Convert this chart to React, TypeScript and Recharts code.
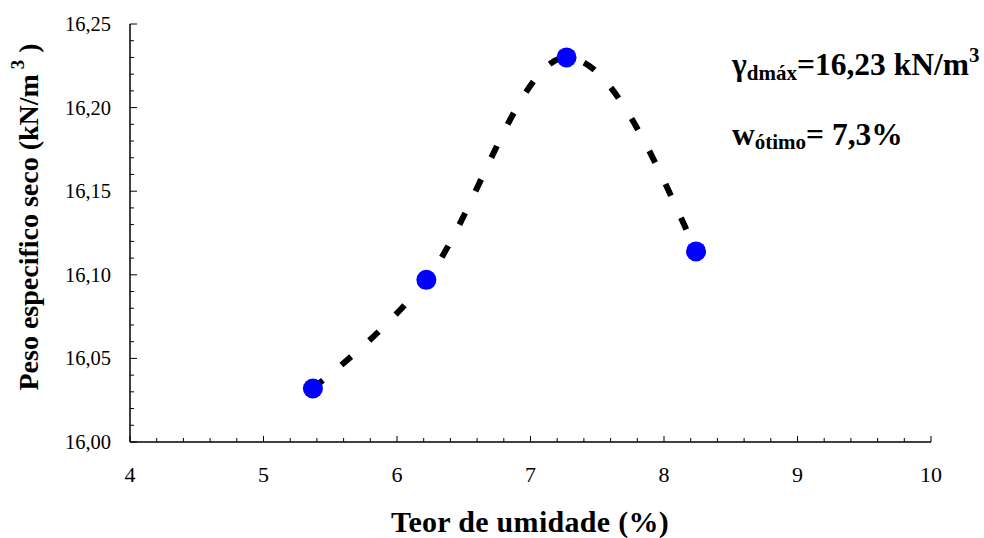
import React from "react";
import {
  ComposedChart,
  Line,
  Scatter,
  XAxis,
  YAxis,
  Customized,
} from "recharts";

// ensaio de compactação
const moisture = [5.37, 6.22, 7.27, 8.24];
const dryWeight = [16.032, 16.097, 16.23, 16.114];

const xMajor = [4, 5, 6, 7, 8, 9, 10];
const yMajor = [16.0, 16.05, 16.1, 16.15, 16.2, 16.25];

const xTicks = Array.from({ length: 31 }, (_, i) => +(4 + i * 0.2).toFixed(1));
const yTicks = Array.from({ length: 26 }, (_, i) => +(16 + i * 0.01).toFixed(2));

const rows = moisture.map((w, i) => ({ w, gd: dryWeight[i] }));

const FONT = "Liberation Serif";

const isMajor = (v: number, list: number[]) =>
  list.some((m) => Math.abs(m - v) < 1e-6);

const XTick = (props: any) => {
  const { x, y, payload } = props;
  const major = isMajor(payload.value, xMajor);
  return (
    <g>
      <line x1={x} x2={x} y1={y} y2={y - (major ? 6 : 4)} stroke="#000" strokeWidth={1} />
      {major && (
        <text x={x} y={y + 32} textAnchor="middle" dominantBaseline="central" fontFamily={FONT} fontSize={22} fill="#000">
          {payload.value}
        </text>
      )}
    </g>
  );
};

const YTick = (props: any) => {
  const { x, y, payload } = props;
  const major = isMajor(payload.value, yMajor);
  return (
    <g>
      <line x1={x} x2={x + (major ? 7 : 4)} y1={y} y2={y} stroke="#000" strokeWidth={1} />
      {major && (
        <text x={x - 19} y={y} textAnchor="end" dominantBaseline="central" fontFamily={FONT} fontSize={20.5} fill="#000">
          {payload.value.toFixed(2).replace(".", ",")}
        </text>
      )}
    </g>
  );
};

const Labels = () => (
  <g fontFamily={FONT} fontWeight="bold" fill="#000">
    <text transform="translate(38, 217) rotate(-90)" textAnchor="middle" fontSize={28}>
      Peso especifico seco (kN/m
      <tspan fontSize={19} dy={-14}> 3</tspan>
      <tspan dy={14}> )</tspan>
    </text>
    <text x={530} y={532} textAnchor="middle" fontSize={30} letterSpacing={0.3}>
      Teor de umidade (%)
    </text>
    <text x={732} y={75} fontSize={31.5}>
      γ<tspan fontSize={21} dy={5}>dmáx</tspan>
      <tspan dy={-5}>=16,23 kN/m</tspan>
      <tspan fontSize={21} dy={-13}>3</tspan>
    </text>
    <text x={732} y={145} fontSize={31.5}>
      w<tspan fontSize={21} dy={4}>ótimo</tspan>
      <tspan dy={-4}>= 7,3%</tspan>
    </text>
  </g>
);

export default function App() {
  return (
    <div style={{ position: "absolute", left: 0, top: 0, background: "#fff" }}>
      <ComposedChart
        width={984}
        height={538}
        data={rows}
        margin={{ top: 24, right: 53, bottom: 0, left: 0 }}
      >
        <XAxis
          dataKey="w"
          type="number"
          domain={[4, 10]}
          ticks={xTicks}
          interval={0}
          tick={<XTick />}
          tickLine={false}
          tickSize={0}
          tickMargin={0}
          height={96}
          axisLine={{ stroke: "#000", strokeWidth: 1.5 }}
        />
        <YAxis
          type="number"
          domain={[16, 16.25]}
          ticks={yTicks}
          interval={0}
          tick={<YTick />}
          tickLine={false}
          tickSize={0}
          tickMargin={0}
          width={130}
          axisLine={{ stroke: "#000", strokeWidth: 1.5 }}
        />
        <Line
          dataKey="gd"
          type="monotone"
          stroke="#000"
          strokeWidth={6}
          strokeDasharray="13 24"
          dot={false}
          activeDot={false}
          isAnimationActive={false}
        />
        <Scatter
          dataKey="gd"
          fill="#0000ff"
          isAnimationActive={false}
          shape={(p: any) => <circle cx={p.cx} cy={p.cy} r={10} fill="#0000ff" />}
        />
        <Customized component={Labels} />
      </ComposedChart>
    </div>
  );
}
